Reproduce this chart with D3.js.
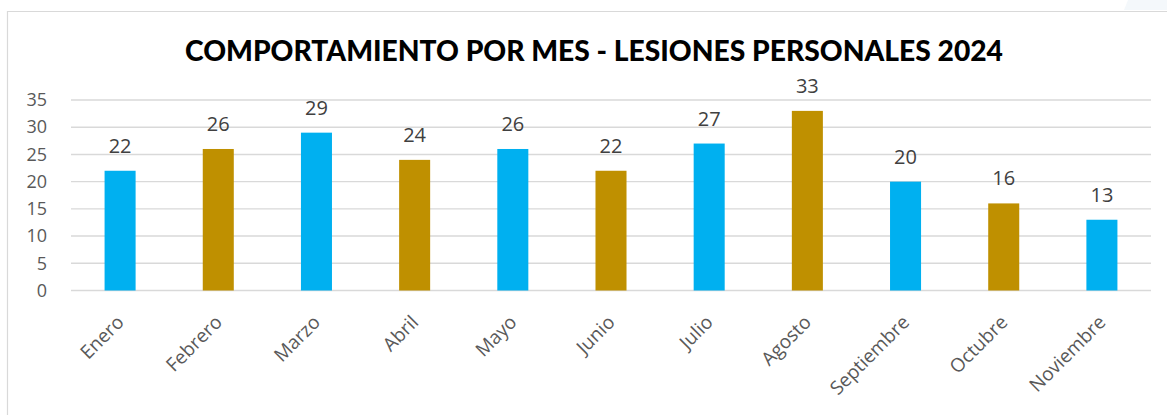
<!DOCTYPE html>
<html>
<head>
<meta charset="utf-8">
<script src="https://cdn.jsdelivr.net/npm/d3@7"></script>
<style>
  body { margin: 0; background: #fff; }
  svg { display: block; }
</style>
</head>
<body>
<div id="chart"></div>
<script>
var months = ["Enero", "Febrero", "Marzo", "Abril", "Mayo", "Junio", "Julio",
              "Agosto", "Septiembre", "Octubre", "Noviembre"];
var lesiones = [22, 26, 29, 24, 26, 22, 27, 33, 20, 16, 13];
var yTicks = [0, 5, 10, 15, 20, 25, 30, 35];
var barColors = ["#00B0F0", "#BF9000"];   // alternating month colours
var title = "COMPORTAMIENTO POR MES - LESIONES PERSONALES 2024";

var W = 1167, H = 415;
var margin = {top: 100, right: 16, bottom: 124.5, left: 71},
    width = W - margin.left - margin.right,
    height = H - margin.top - margin.bottom;

var svg = d3.select("#chart").append("svg")
    .attr("width", W)
    .attr("height", H);

// chart frame
svg.append("path")
    .attr("d", "M7.5," + H + "V11.5H" + W)
    .attr("fill", "none")
    .attr("stroke", "#D9D9D9")
    .attr("stroke-width", 1.2);
svg.append("path")
    .attr("d", "M1128,0H1167V10H1124Z")
    .attr("fill", "#F4F8FB");

svg.append("text")
    .attr("x", 594)
    .attr("y", 61)
    .attr("text-anchor", "middle")
    .attr("textLength", 818)
    .attr("lengthAdjust", "spacingAndGlyphs")
    .style("font-family", "Lato, 'DejaVu Sans', sans-serif")
    .style("font-weight", "900")
    .style("font-size", "28px")
    .style("fill", "#000")
    .text(title);

var g = svg.append("g")
    .attr("transform", "translate(" + margin.left + "," + margin.top + ")");

var x = d3.scaleBand()
    .domain(months)
    .range([0, width])
    .padding(0);

var y = d3.scaleLinear()
    .domain([0, 35])
    .range([height, 0]);

var barW = x.bandwidth() * 0.316;

// gridlines
g.selectAll(".grid")
    .data(yTicks)
    .enter().append("line")
    .attr("x1", 0)
    .attr("x2", width)
    .attr("y1", function(d) { return y(d); })
    .attr("y2", function(d) { return y(d); })
    .attr("stroke", "#D9D9D9")
    .attr("stroke-width", 1.4);

// y axis labels
var yAxis = d3.axisLeft(y).tickValues(yTicks).tickSize(0).tickPadding(24);
g.append("g")
    .call(yAxis)
    .call(function(s) { s.select(".domain").remove(); })
    .selectAll("text")
    .style("font-family", "'Open Sans', sans-serif")
    .style("font-size", "18px")
    .style("fill", "#595959");

// bars
g.selectAll(".bar")
    .data(lesiones)
    .enter().append("rect")
    .attr("class", "bar")
    .attr("x", function(d, i) { return x(months[i]) + (x.bandwidth() - barW) / 2; })
    .attr("y", function(d) { return y(d); })
    .attr("width", barW)
    .attr("height", function(d) { return height - y(d); })
    .attr("fill", function(d, i) { return barColors[i % 2]; });

// value labels
g.selectAll(".val")
    .data(lesiones)
    .enter().append("text")
    .attr("x", function(d, i) { return x(months[i]) + x.bandwidth() / 2; })
    .attr("y", function(d) { return y(d) - 18; })
    .attr("text-anchor", "middle")
    .style("font-family", "'Open Sans', sans-serif")
    .style("font-size", "20px")
    .style("fill", "#404040")
    .text(function(d) { return d; });

// x axis labels, rotated
var xAxis = d3.axisBottom(x).tickSize(0).tickPadding(0);
var xg = g.append("g")
    .attr("transform", "translate(0," + height + ")")
    .call(xAxis);
xg.select(".domain").remove();
xg.selectAll("text")
    .attr("y", 0)
    .attr("dy", "0")
    .attr("transform", "translate(5,33) rotate(-45)")
    .attr("text-anchor", "end")
    .style("font-family", "'Open Sans', sans-serif")
    .style("font-size", "19px")
    .style("fill", "#595959");
</script>
</body>
</html>
